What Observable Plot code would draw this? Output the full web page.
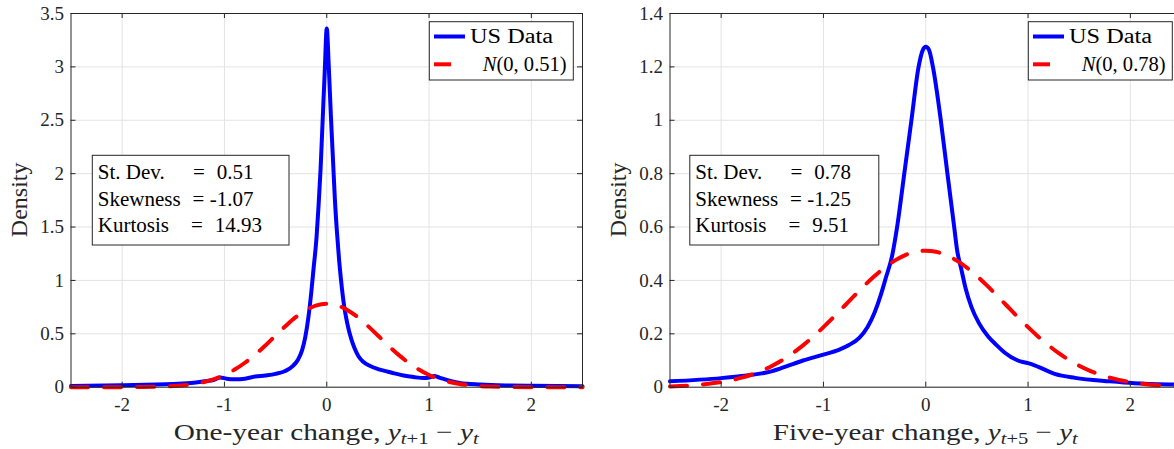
<!DOCTYPE html>
<html>
<head>
<meta charset="utf-8">
<script src="https://cdn.jsdelivr.net/npm/d3@7"></script>
<script src="https://cdn.jsdelivr.net/npm/@observablehq/plot@0.6"></script>
<style>
  html, body { margin: 0; padding: 0; background: #fff; overflow: hidden; }
  #wrap { position: relative; width: 1174px; height: 449px; overflow: hidden; background: #fff; }
  #wrap svg { position: absolute; top: 0; }
  #wrap svg text { font-family: "Liberation Serif", "Times New Roman", serif; }
</style>
</head>
<body>
<div id="wrap"></div>
<script>
// ---------- data ----------
const xTicks = [-2, -1, 0, 1, 2];
const yTicks1 = [0, 0.5, 1, 1.5, 2, 2.5, 3, 3.5];
const yTicks5 = [0, 0.2, 0.4, 0.6, 0.8, 1, 1.2, 1.4];

// One-year change: US Data kernel density
const usX1 = [-2.5, -2.0, -1.5, -1.3, -1.2, -1.1, -1.04, -0.98, -0.9, -0.8, -0.7, -0.6, -0.5, -0.4, -0.33, -0.28, -0.24, -0.21, -0.18, -0.15, -0.13, -0.1, -0.08, -0.06, -0.04, -0.02, 0,
  0.02, 0.04, 0.06, 0.08, 0.1, 0.12, 0.14, 0.17, 0.2, 0.24, 0.27, 0.31, 0.36, 0.42, 0.5, 0.6, 0.66, 0.75, 0.85, 0.95, 1.0, 1.05, 1.1, 1.2, 1.3, 1.5, 1.8, 2.0, 2.5];
const usY1 = [0.012, 0.018, 0.03, 0.042, 0.055, 0.07, 0.09, 0.08, 0.075, 0.08, 0.1, 0.11, 0.125, 0.155, 0.2, 0.26, 0.35, 0.47, 0.65, 0.9, 1.1, 1.4, 1.7, 2.05, 2.5, 2.95, 3.36,
  3.0, 2.55, 2.15, 1.75, 1.45, 1.2, 1.0, 0.76, 0.6, 0.45, 0.37, 0.29, 0.235, 0.2, 0.17, 0.145, 0.13, 0.11, 0.095, 0.085, 0.09, 0.105, 0.09, 0.06, 0.04, 0.025, 0.016, 0.013, 0.008];

// One-year change: N(0, 0.51)
const normX1 = [-2.5, -2.0, -1.8, -1.6, -1.5, -1.4, -1.3, -1.2, -1.1, -1.0, -0.9, -0.8, -0.7, -0.6, -0.5, -0.4, -0.3, -0.2, -0.1, 0,
  0.1, 0.2, 0.3, 0.4, 0.5, 0.6, 0.7, 0.8, 0.9, 1.0, 1.1, 1.2, 1.3, 1.4, 1.5, 1.6, 1.8, 2.0, 2.5];
const normY1 = [0.0, 0.0004, 0.0015, 0.0057, 0.0103, 0.0181, 0.0304, 0.0491, 0.0764, 0.114, 0.165, 0.229, 0.305, 0.391, 0.484, 0.575, 0.658, 0.724, 0.767, 0.782,
  0.767, 0.724, 0.658, 0.575, 0.484, 0.391, 0.305, 0.229, 0.165, 0.114, 0.0764, 0.0491, 0.0304, 0.0181, 0.0103, 0.0057, 0.0015, 0.0004, 0.0];

// Five-year change: US Data kernel density
const usX5 = [-2.5, -2.0, -1.8, -1.5, -1.35, -1.2, -1.0, -0.85, -0.75, -0.65, -0.57, -0.5, -0.44, -0.39, -0.33, -0.28, -0.21, -0.14, -0.07, -0.03, 0,
  0.03, 0.07, 0.147, 0.212, 0.278, 0.307, 0.343, 0.39, 0.447, 0.52, 0.61, 0.7, 0.77, 0.9, 1.0, 1.07, 1.26, 1.46, 1.8, 2.04, 2.44, 2.5];
const usY5 = [0.022, 0.034, 0.042, 0.06, 0.08, 0.1, 0.122, 0.14, 0.158, 0.185, 0.225, 0.28, 0.345, 0.41, 0.49, 0.6, 0.8, 1.0, 1.2, 1.262, 1.275,
  1.265, 1.2, 1.0, 0.8, 0.6, 0.512, 0.45, 0.37, 0.3, 0.24, 0.19, 0.155, 0.13, 0.1, 0.09, 0.081, 0.05, 0.035, 0.022, 0.015, 0.01, 0.0095];

// Five-year change: N(0, 0.78)
const normX5 = [-2.5, -2.4, -2.2, -2.0, -1.9, -1.8, -1.7, -1.6, -1.5, -1.4, -1.3, -1.2, -1.1, -1.0, -0.9, -0.8, -0.7, -0.6, -0.5, -0.4, -0.3, -0.2, -0.1, 0,
  0.1, 0.2, 0.3, 0.4, 0.5, 0.6, 0.7, 0.8, 0.9, 1.0, 1.1, 1.2, 1.3, 1.4, 1.5, 1.6, 1.7, 1.8, 1.9, 2.0, 2.2, 2.4, 2.5];
const normY5 = [0.003, 0.0045, 0.0096, 0.0191, 0.0263, 0.0357, 0.0476, 0.0624, 0.0805, 0.1022, 0.1276, 0.1566, 0.1892, 0.2249, 0.2629, 0.3023, 0.3419, 0.3805, 0.4165, 0.4485, 0.475, 0.495, 0.5073, 0.5115,
  0.5073, 0.495, 0.475, 0.4485, 0.4165, 0.3805, 0.3419, 0.3023, 0.2629, 0.2249, 0.1892, 0.1566, 0.1276, 0.1022, 0.0805, 0.0624, 0.0476, 0.0357, 0.0263, 0.0191, 0.0096, 0.0045, 0.003];

const statLabels = ["St. Dev.", "Skewness", "Kurtosis"];
const stats1 = ["0.51", "-1.07", "14.93"];
const stats5 = ["0.78", "-1.25", "9.51"];
const legendLabels = ["US Data", "(0, 0.51)", "(0, 0.78)"];
const xLabels = ["One-year change", "Five-year change"];
const lags = ["1", "5"];

// ---------- drawing ----------
const FONT = "Liberation Serif, Times New Roman, serif";
const fmtX = d => d < 0 ? "-" + Math.abs(d) : String(d);

function makePanel(o) {
  const us = o.usX.map((x, i) => ({x, y: o.usY[i]}));
  const nm = o.normX.map((x, i) => ({x, y: o.normY[i]}));
  const W = 590, H = 449, mL = 70.5, mR = 8, mT = 13, mB = 62.3;
  const pw = W - mL - mR, ph = H - mT - mB;
  const svg = Plot.plot({
    width: W, height: H,
    marginLeft: mL, marginRight: mR, marginTop: mT, marginBottom: mB,
    x: {domain: [-2.5, 2.5]},
    y: {domain: o.yDomain},
    style: {fontFamily: FONT, fontSize: "19px", color: "#262626", background: "white"},
    marks: [
      Plot.gridX(xTicks, {stroke: "#e3e3e3", strokeOpacity: 1}),
      Plot.gridY(o.yTicks, {stroke: "#e3e3e3", strokeOpacity: 1}),
      Plot.line(us, {x: "x", y: "y", stroke: "#0000ff", strokeWidth: 4, curve: "monotone-x", strokeLinejoin: "round"}),
      Plot.line(nm, {x: "x", y: "y", stroke: "#ff0000", strokeWidth: 4, strokeDasharray: "17,16", curve: "monotone-x"}),
      Plot.ruleX(xTicks, {x: d => d, insetTop: ph - 5, stroke: "#262626"}),
      Plot.ruleX(xTicks, {x: d => d, insetBottom: ph - 5, stroke: "#262626"}),
      Plot.ruleY(o.yTicks, {y: d => d, insetRight: pw - 5, stroke: "#262626"}),
      Plot.ruleY(o.yTicks, {y: d => d, insetLeft: pw - 5, stroke: "#262626"}),
      Plot.frame({stroke: "#262626"}),
      Plot.axisX(xTicks, {tickSize: 0, tickPadding: 10, tickFormat: fmtX, label: null, fontSize: 19, fontFamily: FONT}),
      Plot.axisY(o.yTicks, {tickSize: 0, tickPadding: 7, tickFormat: d => String(d), label: null, fontSize: 19, fontFamily: FONT})
    ]
  });

  const g = d3.select(svg);
  const x0 = mL, x1 = W - mR, y0 = mT, y1 = H - mB, cx = (x0 + x1) / 2;

  // y label
  g.append("text")
    .attr("transform", `translate(${x0 - 51.5},${(y0 + y1) / 2}) rotate(-90)`)
    .attr("text-anchor", "middle").attr("dominant-baseline", "central")
    .attr("font-size", 24).attr("fill", "#262626")
    .text("Density");

  // x label with subscripts
  const t = g.append("text")
    .attr("x", cx).attr("y", 439.5).attr("text-anchor", "middle")
    .attr("font-size", 24).attr("fill", "#262626")
    .attr("textLength", 305).attr("lengthAdjust", "spacingAndGlyphs");
  t.append("tspan").text(o.xlabel + ", ");
  t.append("tspan").attr("font-style", "italic").text("y");
  t.append("tspan").attr("font-style", "italic").attr("font-size", 17).attr("dy", 4).text("t");
  t.append("tspan").attr("font-size", 17).text("+" + o.lag);
  t.append("tspan").attr("dy", -4).text(" \u2212 ");
  t.append("tspan").attr("font-style", "italic").text("y");
  t.append("tspan").attr("font-style", "italic").attr("font-size", 17).attr("dy", 4).text("t");

  // legend (top-right)
  const lw = 144, lh = 58.3;
  const lx = x1 - 8.7 - lw, ly = y0 + 8.7;
  const L = g.append("g").attr("fill", "#000").attr("text-anchor", "start");
  L.append("rect").attr("x", lx).attr("y", ly).attr("width", lw).attr("height", lh)
    .attr("fill", "white").attr("stroke", "#262626").attr("stroke-width", 1);
  L.append("line").attr("x1", lx + 4.7).attr("x2", lx + 35.7).attr("y1", ly + 14.8).attr("y2", ly + 14.8)
    .attr("stroke", "#0000ff").attr("stroke-width", 4);
  L.append("line").attr("x1", lx + 4.7).attr("x2", lx + 35.7).attr("y1", ly + 42.6).attr("y2", ly + 42.6)
    .attr("stroke", "#ff0000").attr("stroke-width", 4).attr("stroke-dasharray", "17,16");
  L.append("text").attr("x", lx + 40.7).attr("y", ly + 21).attr("font-size", 20).attr("text-anchor", "start")
    .attr("textLength", 83).attr("lengthAdjust", "spacingAndGlyphs").text(legendLabels[0]);
  const nt = L.append("text").attr("x", lx + 53.4).attr("y", ly + 49.5).attr("font-size", 20).attr("text-anchor", "start")
    .attr("textLength", 84).attr("lengthAdjust", "spacingAndGlyphs");
  nt.append("tspan").attr("font-style", "italic").text("N");
  nt.append("tspan").text(o.nLabel);

  // stats box (upper left)
  const bx = x0 + o.boxInset, by = 155.3, bh = 89.7;
  const S = g.append("g").attr("font-size", 21).attr("fill", "#000").attr("text-anchor", "start");
  S.append("rect").attr("x", bx).attr("y", by).attr("width", o.boxW).attr("height", bh)
    .attr("fill", "white").attr("stroke", "#262626").attr("stroke-width", 1);
  const base = [23.7, 50.4, 77];
  const eqX = [106.5, 106, 104.5];
  const valX = [124.5, 117.5, 122.5];
  statLabels.forEach((lab, i) => {
    S.append("text").attr("x", bx + 5.5).attr("y", by + base[i]).attr("text-anchor", "start").text(lab);
    S.append("text").attr("x", bx + eqX[i]).attr("y", by + base[i]).attr("text-anchor", "middle").text("=");
    S.append("text").attr("x", bx + valX[i]).attr("y", by + base[i]).attr("text-anchor", "start").text(o.stats[i]);
  });
  return svg;
}

const wrap = document.getElementById("wrap");
const p1 = makePanel({usX: usX1, usY: usY1, normX: normX1, normY: normY1, yDomain: [0, 3.5], yTicks: yTicks1,
  xlabel: xLabels[0], lag: lags[0], nLabel: legendLabels[1], stats: stats1, boxInset: 21.8, boxW: 196.7});
const p2 = makePanel({usX: usX5, usY: usY5, normX: normX5, normY: normY5, yDomain: [0, 1.4], yTicks: yTicks5,
  xlabel: xLabels[1], lag: lags[1], nLabel: legendLabels[2], stats: stats5, boxInset: 20.3, boxW: 189});
p1.style.left = "0px";
p2.style.left = "598.5px";
wrap.appendChild(p1);
wrap.appendChild(p2);
</script>
</body>
</html>
